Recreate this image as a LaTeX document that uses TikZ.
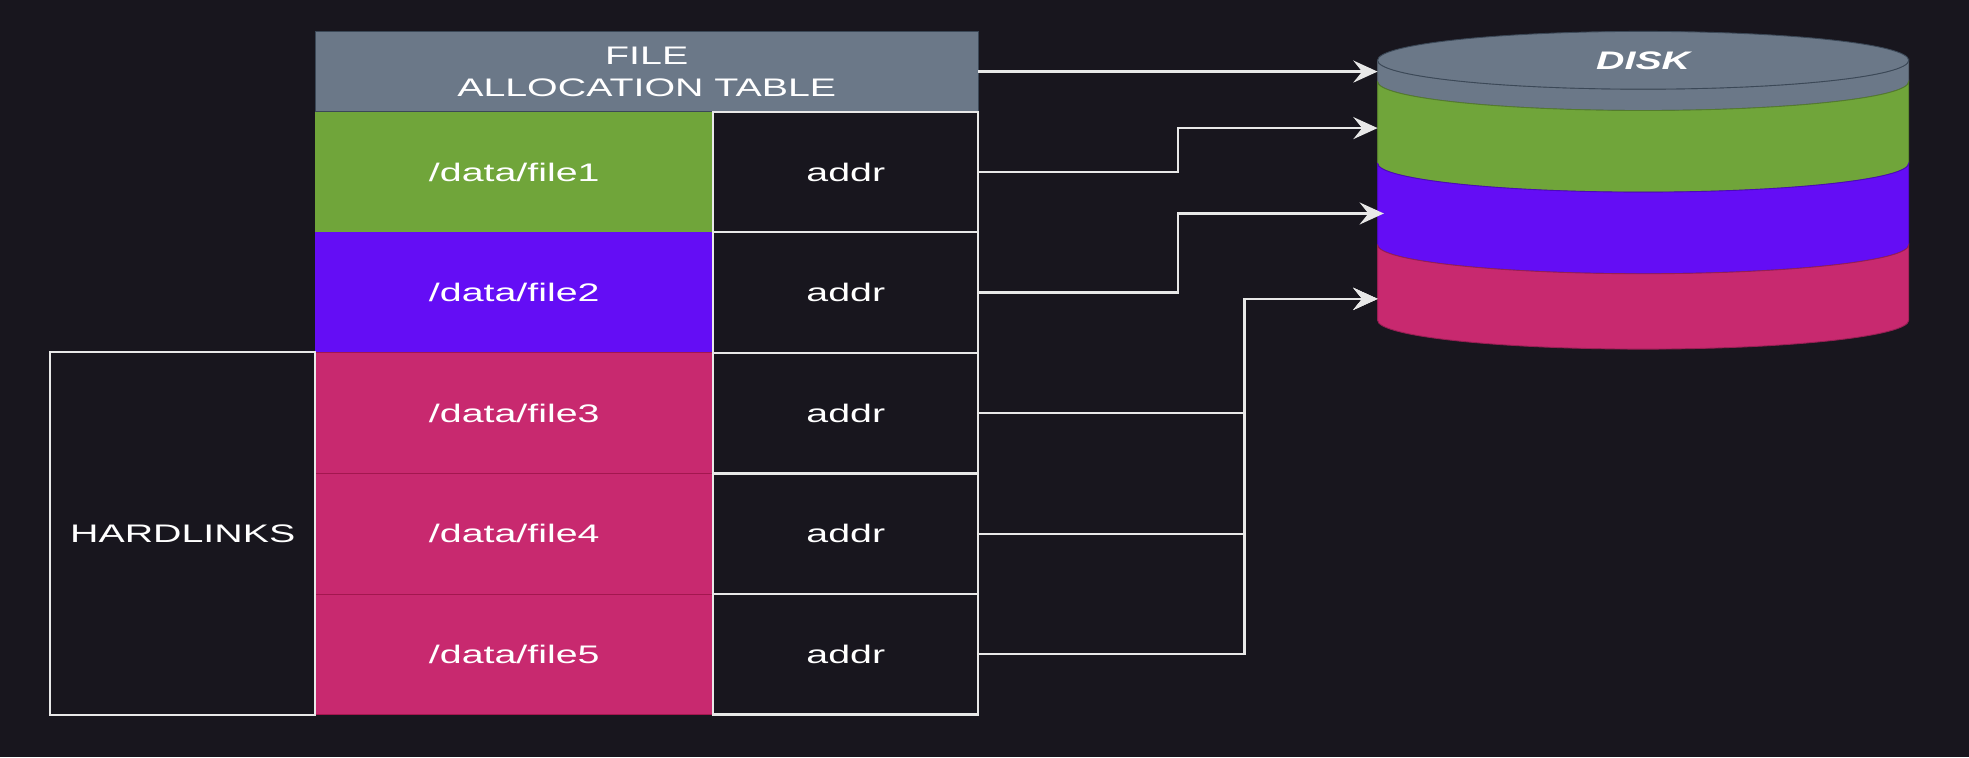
\documentclass[tikz,border=0pt]{standalone}
\usepackage{fontspec}
\setmainfont{Liberation Sans}
\usetikzlibrary{positioning, arrows.meta}
\definecolor{bgdark}{HTML}{18161E}
\definecolor{fatgray}{HTML}{6B7888}
\definecolor{fatline}{HTML}{3B4857}
\definecolor{filegreen}{HTML}{70A53A}
\definecolor{filepurple}{HTML}{640DF5}
\definecolor{filepink}{HTML}{C8296F}
\definecolor{pinkline}{HTML}{A3174F}
\definecolor{linkwhite}{HTML}{E8E8E8}
% the picture's text is set wide
\newcommand{\wide}[1]{\scalebox{1.55}[1]{#1}}

\begin{document}
\begin{tikzpicture}[node distance=0cm]
        % styles %
        \tikzstyle{every node} = [font=\fontsize{11.5}{14.5}\selectfont, text=white, outer sep=0pt];
        \tikzstyle{fathead} = [rectangle, fill=fatgray, draw=fatline, minimum width=10.56cm, minimum height=1.28cm, align=center];
        \tikzstyle{fname} = [rectangle, minimum width=6.34cm, minimum height=1.92cm];
        \tikzstyle{faddr} = [rectangle, draw=linkwhite, line width=1pt, fill=bgdark, minimum width=4.22cm, minimum height=1.92cm];
        \tikzstyle{hlink} = [rectangle, draw=linkwhite, line width=1pt, minimum width=4.22cm, minimum height=5.78cm];
        \tikzstyle{link} = [-{Stealth[length=11pt, width=10pt, inset=4pt]}, draw=linkwhite, line width=1pt];

        \fill[bgdark] (0,0) rectangle (31.36,-12.06);
        \useasboundingbox (0,0) rectangle (31.36,-12.06);

        % nodes %
        \node [fathead] (fat) at (10.30,-1.14) {\wide{FILE}\\\wide{ALLOCATION TABLE}};
        \node [fname, fill=filegreen] (f1) [below=of fat.south west, anchor=north west] {\wide{/data/file1}};
        \node [faddr] (a1) [right=of f1] {\wide{addr}};
        \node [fname, fill=filepurple] (f2) [below=of f1] {\wide{/data/file2}};
        \node [faddr] (a2) [right=of f2] {\wide{addr}};
        \node [fname, fill=filepink, draw=pinkline] (f3) [below=of f2] {\wide{/data/file3}};
        \node [faddr] (a3) [right=of f3] {\wide{addr}};
        \node [fname, fill=filepink, draw=pinkline] (f4) [below=of f3] {\wide{/data/file4}};
        \node [faddr] (a4) [right=of f4] {\wide{addr}};
        \node [fname, fill=filepink, draw=pinkline] (f5) [below=of f4] {\wide{/data/file5}};
        \node [faddr] (a5) [right=of f5] {\wide{addr}};
        \node [hlink] (hard) [left=of f4] {\wide{HARDLINKS}};

        % disk %
        \foreach \col/\ya/\yb in {fatgray/-0.96/-1.30, filegreen/-1.30/-2.60, filepurple/-2.60/-3.90, filepink/-3.90/-5.10}
            \filldraw[fill=\col, draw=\col!75!black] (21.94,\ya) -- (21.94,\yb)
                arc[start angle=180, end angle=360, x radius=4.23, y radius=0.46] -- (30.40,\ya)
                arc[start angle=0, end angle=-180, x radius=4.23, y radius=0.46] -- cycle;
        \filldraw[fill=fatgray, draw=fatline] (26.17,-0.96) ellipse [x radius=4.23, y radius=0.46];
        \node [font=\bfseries\itshape\fontsize{11.5}{14.5}\selectfont] (disk) at (26.17,-0.96) {\wide{DISK}};

        \coordinate (dfat) at (21.94,-1.14);
        \coordinate (dgreen) at (21.94,-2.04);
        \coordinate (dpurple) at (22.04,-3.40);
        \coordinate (dpink) at (21.94,-4.76);
        \coordinate (j1) at (18.76,0);
        \coordinate (j2) at (19.82,0);

        % edges %
        \draw[link] (fat.east) -- (dfat);
        \draw[link] (a1.east) -- (a1.east -| j1) |- (dgreen);
        \draw[link] (a2.east) -- (a2.east -| j1) |- (dpurple);
        \foreach \a in {a3, a4, a5}
            \draw[link] (\a.east) -- (\a.east -| j2) |- (dpink);
\end{tikzpicture}
\end{document}
